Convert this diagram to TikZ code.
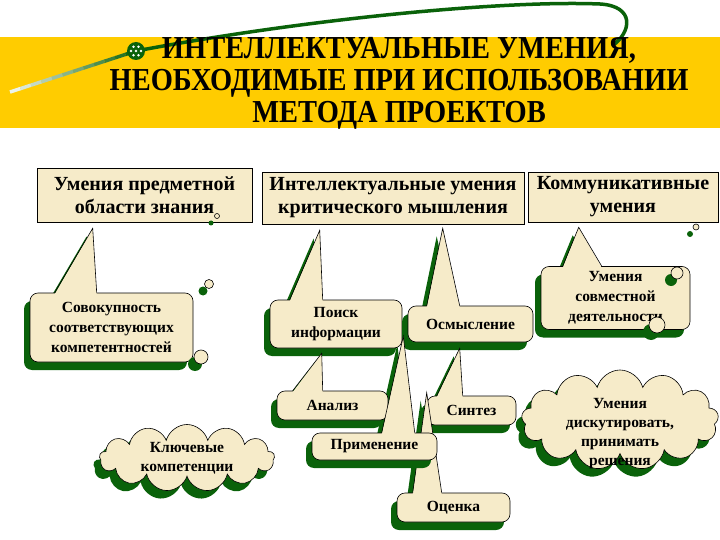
\documentclass[tikz,border=0pt]{standalone}
\usepackage{fontspec}
\setmainfont{LiberationSerif}[Extension=.ttf,UprightFont=*-Regular,BoldFont=*-Bold]
\newfontfamily\headfont{LiberationSerif}[Extension=.ttf,UprightFont=*-Bold,FakeStretch=0.89]
\usetikzlibrary{calc,shapes.symbols,shadows,backgrounds}
\definecolor{band}{HTML}{FFCC00}
\definecolor{paper}{HTML}{F6EBC9}
\definecolor{leaf}{HTML}{0A620A}
\tikzset{
  px/.style={x=1pt,y=-1pt,line width=.6pt},
  title/.style={align=center,inner sep=0pt,font=\headfont\fontsize{32}{32}\selectfont},
  topbox/.style={draw,fill=paper,align=center,inner sep=0pt,font=\bfseries\fontsize{20}{23}\selectfont},
  greenshade/.style={drop shadow={shadow xshift=-6pt,shadow yshift=-8pt,fill=leaf,opacity=1}},
  bubble/.style={draw,fill=paper,rounded corners=8pt,align=center,inner sep=0pt,greenshade,font=\bfseries\fontsize{15.5}{20}\selectfont},
  puff/.style={cloud,cloud puffs=13,cloud ignores aspect,draw,fill=paper,align=center,greenshade,font=\bfseries\fontsize{15.5}{19}\selectfont},
}
% pointer of a callout: node, tip, left and right offset from node.north west
\newcommand\tail[4]{%
  \begin{scope}[on background layer]
    \fill[leaf] ($(#2)+(-6,8)$) -- ($(#1.north west)+(#3-6,8)$) -- ($(#1.north west)+(#4-6,8)$) -- cycle;
  \end{scope}
  \fill[paper] (#2) -- ($(#1.north west)+(#3,1.5)$) -- ($(#1.north west)+(#4,1.5)$) -- cycle;
  \draw ($(#1.north west)+(#3,0)$) -- (#2) -- ($(#1.north west)+(#4,0)$);
}

\begin{document}
\begin{tikzpicture}[px]
  \useasboundingbox (0,0) rectangle (720,540);
  % title band
  \fill[band] (0,37) rectangle (720,128);
  \foreach \i [evaluate=\i as \p using int(8+8*\i), evaluate=\i as \j using \i+1] in {0,...,11}
    \draw[leaf!\p!white,line width=3.5pt] ($(10,92)!\i/12!(136,51)$) -- ($(10,92)!\j/12!(136,51)$);
  \draw[leaf,line width=3.5pt] (136,51) .. controls (300,20) and (500,0) .. (600,4) .. controls (635,6) and (632,32) .. (612,46);
  \fill[leaf] (136,51) circle[radius=9];
  \foreach \a in {0,60,...,300}{\fill[white] ($(136,51)+(\a:5)$) circle[radius=1.4];}
  \fill[white] (136,51) circle[radius=1.4];
  \node[title] (title) at (399,83) {ИНТЕЛЛЕКТУАЛЬНЫЕ УМЕНИЯ,\\НЕОБХОДИМЫЕ ПРИ ИСПОЛЬЗОВАНИИ\\МЕТОДА ПРОЕКТОВ};

  % three groups of skills
  \node[topbox,minimum width=215pt,minimum height=54pt] (predm) at (144.5,195) {Умения предметной\\области знания};
  \node[topbox,minimum width=262pt,minimum height=52pt] (krit) at (393,198) {Интеллектуальные умения\\критического мышления};
  \node[topbox,minimum width=190pt,minimum height=50pt] (komm) at (623,197) {Коммуникативные\\умения};

  \coordinate (tSovok) at ($(predm.south west)+(56,6)$);
  \coordinate (tPoisk) at ($(krit.south west)+(58,6)$);
  \coordinate (tOsmysl) at ($(krit.south west)+(181,4)$);
  \coordinate (tSovm) at ($(komm.south west)+(51,5)$);

  \node[bubble,minimum width=132pt,minimum height=48pt] (poisk) at (336,324) {Поиск\\информации};
  \tail{poisk}{tPoisk}{20}{53}
  \node[bubble,minimum width=125pt,minimum height=36pt] (osmysl) at (470.5,324) {Осмысление};
  \tail{osmysl}{tOsmysl}{19}{52}

  \coordinate (tAnaliz) at ($(poisk.south west)+(52,5)$);
  \coordinate (tSintez) at ($(osmysl.south west)+(52,6)$);
  \coordinate (tPrimen) at ($(poisk.south east)+(1,-12)$);

  \node[bubble,minimum width=111pt,minimum height=29pt] (analiz) at (332.5,405.5) {Анализ};
  \tail{analiz}{tAnaliz}{16}{46}
  \node[bubble,minimum width=89pt,minimum height=29pt] (sintez) at (471.5,410.5) {Синтез};
  \tail{sintez}{tSintez}{10}{36}

  \coordinate (tOcenka) at ($(sintez.north west)+(0,-3)$);
  \node[bubble,minimum width=113pt,minimum height=29pt] (ocenka) at (453.5,507.5) {Оценка};
  \tail{ocenka}{tOcenka}{16}{45}
  \node[bubble,minimum width=125pt,minimum height=27pt] (primen) at (374.5,446.5) {Применение};
  \tail{primen}{tPrimen}{70}{103}

  \node[bubble,minimum width=163pt,minimum height=69pt] (sovok) at (111.5,327.5) {Совокупность\\соответствующих\\компетентностей};
  \tail{sovok}{tSovok}{25}{67}
  \node[bubble,minimum width=149pt,minimum height=63pt] (sovm) at (615.5,298) {Умения\\совместной\\деятельности};
  \tail{sovm}{tSovm}{22}{61}

  \node[puff,minimum width=175pt,minimum height=67pt,inner xsep=2pt,inner ysep=-6pt] (kluch) at (187,458) {Ключевые\\компетенции};
  \node[puff,minimum width=197pt,minimum height=100pt,inner xsep=0pt,inner ysep=-32pt] (disk) at (620,420) {\rule{0pt}{37pt}Умения\\дискутировать,\\принимать\\решения};

  % small bubbles
  \foreach \x/\y/\r in {217/216/2.5,209/284/4.5,201/357/7,696/227/3,677/273/6,657/325/8}{
    \fill[leaf] (\x-6,\y+7) circle[radius=\r];
    \filldraw[fill=paper] (\x,\y) circle[radius=\r];
  }
\end{tikzpicture}
\end{document}
